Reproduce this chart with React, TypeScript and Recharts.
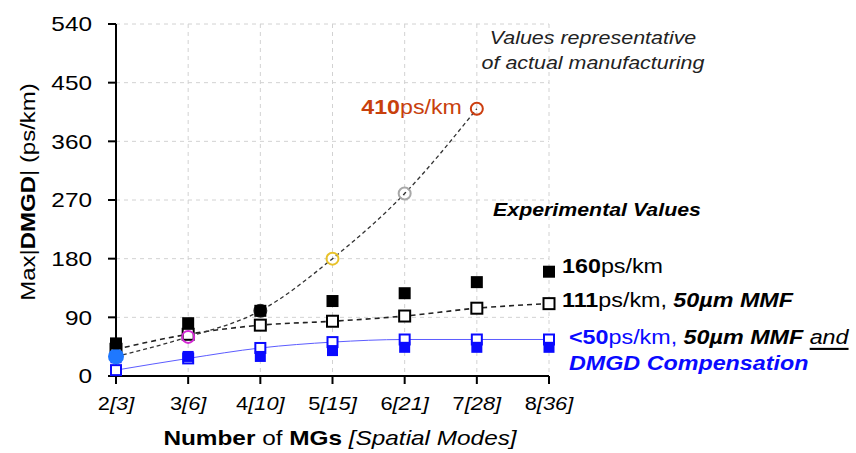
import React from 'react';
import { ComposedChart, Line, XAxis, YAxis, CartesianGrid, LabelList } from 'recharts';

const FONT = '"Liberation Sans", Arial, Helvetica, sans-serif';

// number of mode groups and the spatial modes they carry
const modeGroups = [2, 3, 4, 5, 6, 7, 8];
const spatialModes = [3, 6, 10, 15, 21, 28, 36];
const yTicks = [0, 90, 180, 270, 360, 450, 540];

// max |DMGD| in ps/km
const manufacturing = [30, 60, 100, 180, 280, 410, null];
const manufacturingColors = ['#1f78ff', '#d42ad4', '#333333', '#e8c22a', '#a8a8a8', '#cc3e10', '#000000'];
const manufacturingFilled = [true, false, false, false, false, false, false];
const experimental = [50, 81, 100, 115, 127, 144, 160];
const mmf50 = [41, 64, 78, 84, 92, 104, 111];
const compensatedFit = [9, 27, 43, 52, 56, 56, 56];
const compensated = [28, 30, 30, 39, 44, 44, 44];

const data = modeGroups.map((mg, i) => ({
  mg,
  manufacturing: manufacturing[i],
  experimental: experimental[i],
  mmf50: mmf50[i],
  compensatedFit: compensatedFit[i],
  compensated: compensated[i],
}));

const BLUE = '#0a0aff';
const RED = '#c8400c';
const SX = 1.16;

type TxtProps = {
  x: number;
  y: number;
  sx?: number;
  size?: number;
  anchor?: 'start' | 'middle' | 'end';
  rotate?: number;
  fill?: string;
  children: React.ReactNode;
};

function Txt({ x, y, sx = SX, size = 21, anchor = 'start', rotate = 0, fill = '#000', children }: TxtProps) {
  const tf = rotate
    ? `translate(${x},${y}) rotate(${rotate}) scale(${sx},1)`
    : `translate(${x},${y}) scale(${sx},1)`;
  return (
    <text transform={tf} textAnchor={anchor} dominantBaseline="central" fontSize={size} fontFamily={FONT} fill={fill}>
      {children}
    </text>
  );
}

const YTick = (props: any) => {
  const { x, y, payload } = props;
  return (
    <Txt x={x} y={y} anchor="end" size={21}>
      {payload.value}
    </Txt>
  );
};

const XTick = (props: any) => {
  const { x, y, payload } = props;
  const i = modeGroups.indexOf(payload.value);
  return (
    <Txt x={x} y={y + 18} anchor="middle" size={18.5} sx={1.18}>
      <tspan>{payload.value}</tspan>
      <tspan fontStyle="italic">[{spatialModes[i]}]</tspan>
    </Txt>
  );
};

const circleDot = (p: any) => {
  const key = `c-${p.index}`;
  if (p.cx == null || p.cy == null || p.value == null) return <g key={key} />;
  const c = manufacturingColors[p.index];
  const filled = manufacturingFilled[p.index];
  return (
    <circle key={key} cx={p.cx} cy={p.cy} r={filled ? 7 : 6} fill={filled ? c : 'none'} stroke={c} strokeWidth={2} />
  );
};

const filledSquare = (color: string, size: number) => (p: any) => {
  const key = `f-${color}-${p.index}`;
  if (p.cx == null || p.cy == null) return <g key={key} />;
  return <rect key={key} x={p.cx - size / 2} y={p.cy - size / 2} width={size} height={size} fill={color} />;
};

const hollowSquare = (color: string, size: number) => (p: any) => {
  const key = `h-${color}-${p.index}`;
  if (p.cx == null || p.cy == null) return <g key={key} />;
  return (
    <rect key={key} x={p.cx - size / 2} y={p.cy - size / 2} width={size} height={size} fill="#fff" stroke={color} strokeWidth={2} />
  );
};

const peakLabel = (props: any) => {
  const { x, y, index } = props;
  if (index !== 5) return null;
  return (
    <Txt x={x - 15} y={y - 2} anchor="end" size={20} fill={RED}>
      <tspan fontWeight="bold">410</tspan>
      <tspan>ps/km</tspan>
    </Txt>
  );
};

const experimentalLabel = (props: any) => {
  const { x, y, index } = props;
  if (index !== 6) return null;
  return (
    <Txt x={x + 13} y={y - 6} size={21} sx={1.11}>
      <tspan fontWeight="bold">160</tspan>
      <tspan>ps/km</tspan>
    </Txt>
  );
};

const mmfLabel = (props: any) => {
  const { x, y, index } = props;
  if (index !== 6) return null;
  return (
    <Txt x={x + 13} y={y - 4} size={21} sx={1.11}>
      <tspan fontWeight="bold">111</tspan>
      <tspan>ps/km, </tspan>
      <tspan fontWeight="bold" fontStyle="italic">50µm MMF</tspan>
    </Txt>
  );
};

const compensatedLabel = (props: any) => {
  const { x, y, index } = props;
  if (index !== 6) return null;
  return (
    <g>
      <Txt x={x + 20} y={y - 3} size={21} sx={1.11} fill={BLUE}>
        <tspan fontWeight="bold">&lt;50</tspan>
        <tspan>ps/km, </tspan>
        <tspan fontWeight="bold" fontStyle="italic" fill="#000">50µm MMF </tspan>
        <tspan fontStyle="italic" fill="#000" style={{ textDecoration: 'underline' }}>and</tspan>
      </Txt>
      <Txt x={x + 20} y={y + 23} size={21} sx={1.11} fill={BLUE}>
        <tspan fontWeight="bold" fontStyle="italic">DMGD Compensation</tspan>
      </Txt>
    </g>
  );
};

export default function App() {
  return (
    <div style={{ position: 'absolute', left: 0, top: 0, width: 856, height: 453, background: '#fff' }}>
      <ComposedChart width={856} height={453} data={data} margin={{ top: 24, right: 307, left: 0, bottom: 0 }}>
        <CartesianGrid stroke="#d2d2d2" strokeDasharray="4 4" strokeWidth={1} />
        <XAxis
          dataKey="mg"
          type="number"
          domain={[2, 8]}
          ticks={modeGroups}
          height={77}
          axisLine={{ stroke: '#000', strokeWidth: 2 }}
          tickLine={{ stroke: '#000', strokeWidth: 2 }}
          tickSize={8}
          tick={<XTick />}
          interval={0}
        />
        <YAxis
          type="number"
          domain={[0, 540]}
          ticks={yTicks}
          width={116}
          axisLine={{ stroke: '#000', strokeWidth: 2 }}
          tickLine={{ stroke: '#000', strokeWidth: 2 }}
          tickSize={8}
          tickMargin={16}
          tick={<YTick />}
          interval={0}
        />
        <Line
          dataKey="compensatedFit"
          type="monotone"
          stroke="#5c5cff"
          strokeWidth={1}
          dot={hollowSquare(BLUE, 10)}
          isAnimationActive={false}
        />
        <Line
          dataKey="compensated"
          stroke="none"
          dot={filledSquare(BLUE, 11)}
          isAnimationActive={false}
        >
        </Line>
        <Line
          dataKey="compensatedFit"
          stroke="none"
          dot={false}
          isAnimationActive={false}
        >
          <LabelList content={compensatedLabel} />
        </Line>
        <Line
          dataKey="mmf50"
          type="monotone"
          stroke="#222"
          strokeWidth={1.6}
          strokeDasharray="5 4"
          dot={hollowSquare('#000', 11)}
          isAnimationActive={false}
        >
          <LabelList content={mmfLabel} />
        </Line>
        <Line
          dataKey="manufacturing"
          type="monotone"
          stroke="#333"
          strokeWidth={1.3}
          strokeDasharray="4 3"
          dot={circleDot}
          connectNulls={false}
          isAnimationActive={false}
        >
          <LabelList content={peakLabel} />
        </Line>
        <Line
          dataKey="experimental"
          stroke="none"
          dot={filledSquare('#000', 12)}
          isAnimationActive={false}
        >
          <LabelList content={experimentalLabel} />
        </Line>
      </ComposedChart>
      <svg
        width={856}
        height={453}
        style={{ position: 'absolute', left: 0, top: 0, pointerEvents: 'none' }}
      >
        <Txt x={28} y={192} rotate={-90} anchor="middle" size={20} sx={1.2}>
          <tspan>Max|</tspan>
          <tspan fontWeight="bold">DMGD</tspan>
          <tspan>| (ps/km)</tspan>
        </Txt>
        <Txt x={340} y={438} anchor="middle" size={21}>
          <tspan fontWeight="bold">Number</tspan>
          <tspan> of </tspan>
          <tspan fontWeight="bold">MGs</tspan>
          <tspan fontStyle="italic"> [Spatial Modes]</tspan>
        </Txt>
        <Txt x={593} y={38} anchor="middle" size={18.5} fill="#222">
          <tspan fontStyle="italic">Values representative</tspan>
        </Txt>
        <Txt x={593} y={63} anchor="middle" size={18.5} fill="#222">
          <tspan fontStyle="italic">of actual manufacturing</tspan>
        </Txt>
        <Txt x={597} y={210} anchor="middle" size={18.4}>
          <tspan fontWeight="bold" fontStyle="italic">Experimental Values</tspan>
        </Txt>
      </svg>
    </div>
  );
}
